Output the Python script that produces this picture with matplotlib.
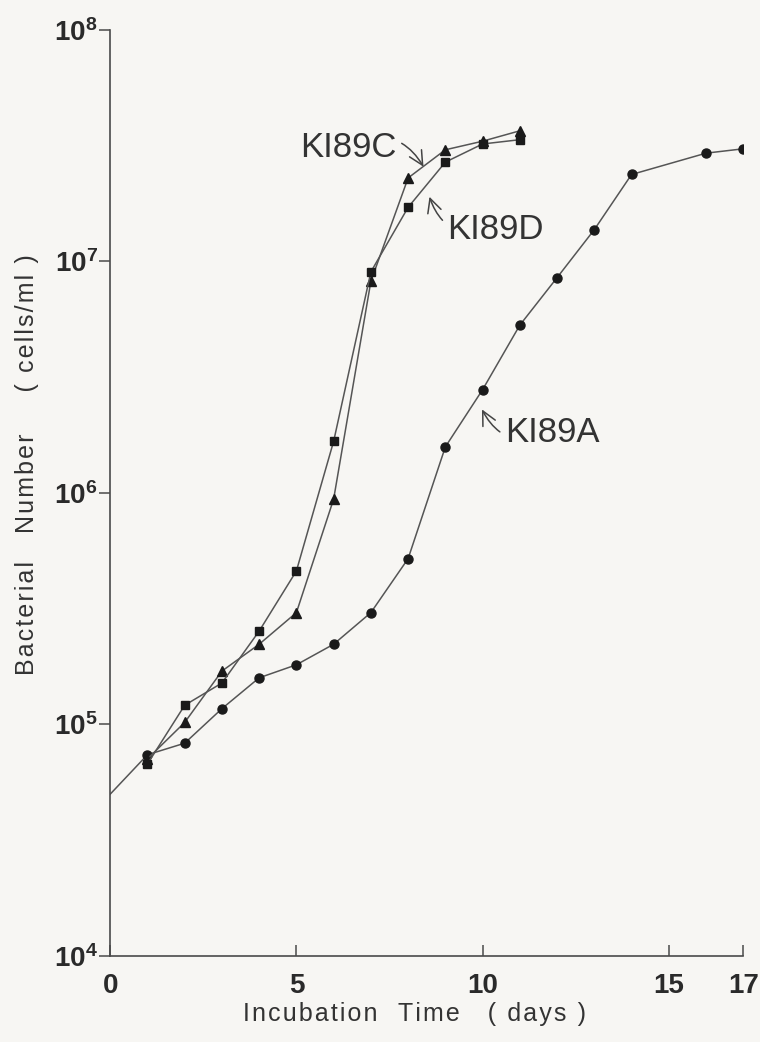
import numpy as np
import matplotlib.pyplot as plt

# Growth curves of three strains (log scale)
days_a = [0, 1, 2, 3, 4, 5, 6, 7, 8, 9, 10, 11, 12, 13, 14, 16, 17]
ki89a = [5.0e4, 7.4e4, 8.3e4, 1.17e5, 1.59e5, 1.81e5, 2.22e5, 3.04e5, 5.2e5,
         1.58e6, 2.79e6, 5.3e6, 8.5e6, 1.37e7, 2.37e7, 2.93e7, 3.06e7]

days_cd = [1, 2, 3, 4, 5, 6, 7, 8, 9, 10, 11]
ki89c = [7.1e4, 1.02e5, 1.70e5, 2.22e5, 3.04e5, 9.4e5, 8.2e6, 2.29e7, 3.03e7, 3.30e7, 3.66e7]
ki89d = [6.75e4, 1.21e5, 1.51e5, 2.53e5, 4.6e5, 1.67e6, 9.0e6, 1.71e7, 2.68e7, 3.21e7, 3.35e7]

xticks = [0, 5, 10, 15, 17]
yticks = [1e4, 1e5, 1e6, 1e7, 1e8]
ytick_labels = [r'$10^{4}$', r'$10^{5}$', r'$10^{6}$', r'$10^{7}$', r'$10^{8}$']

fam = ['Liberation Sans', 'DejaVu Sans']
plt.rcParams['font.family'] = fam
plt.rcParams['mathtext.fontset'] = 'custom'
plt.rcParams['mathtext.rm'] = 'Liberation Sans:bold'
plt.rcParams['mathtext.default'] = 'rm'


def spaced(s):
    # hair space between letters, imitates the wide tracking of the original
    return '\u200a'.join(s)


bg = '#f7f6f3'
ink = '#333333'
fig = plt.figure(figsize=(7.6, 10.42), dpi=100, facecolor=bg)
ax = fig.add_axes([0.145, 0.0825, 0.833, 0.889], facecolor=bg)

ax.plot(days_a, ki89a, color='#555555', lw=1.1, marker='o', ms=6.5,
        mfc='#1a1a1a', mec='#1a1a1a', markevery=list(range(1, len(days_a))))
ax.plot(days_cd, ki89c, color='#555555', lw=1.1, marker='^', ms=6.5,
        mfc='#1a1a1a', mec='#1a1a1a')
ax.plot(days_cd, ki89d, color='#555555', lw=1.1, marker='s', ms=6,
        mfc='#1a1a1a', mec='#1a1a1a')

ax.set_yscale('log')
ax.set_xlim(0, 17)
ax.set_ylim(1e4, 1e8)
ax.set_xticks(xticks)
ax.set_xticklabels([str(t) for t in xticks])
ax.set_yticks(yticks)
ax.set_yticklabels(ytick_labels)
ax.minorticks_off()

for s in ['top', 'right']:
    ax.spines[s].set_visible(False)
for s in ['left', 'bottom']:
    ax.spines[s].set_color('#4a4a4a')
    ax.spines[s].set_linewidth(1.2)

ax.tick_params(axis='x', direction='in', length=8, width=1.1, color='#4a4a4a', pad=12)
ax.tick_params(axis='y', direction='out', length=8, width=1.1, color='#4a4a4a', pad=1)
for lab in ax.get_xticklabels() + ax.get_yticklabels():
    lab.set_fontweight('bold')
    lab.set_fontsize(20)
    lab.set_color('#2a2a2a')

ax.set_xlabel(spaced('Incubation') + '   ' + spaced('Time') + '    ' + spaced('( days )'),
              fontsize=18, color=ink)
ax.xaxis.set_label_coords(0.48, -0.05)
ax.set_ylabel(spaced('Bacterial') + '    ' + spaced('Number') + '      ' + spaced('( cells/ml )'),
              fontsize=18, color=ink)
ax.yaxis.set_label_coords(-0.112, 0.53)

arrow = dict(arrowstyle='->', color='#444444', lw=1.1)
ax.annotate('KI89C', xy=(8.45, 2.5e7), xytext=(5.1, 3.1e7), fontsize=25,
            color=ink, va='center', ha='left',
            arrowprops=dict(arrow, connectionstyle='arc3,rad=-0.5', shrinkA=2, shrinkB=2))
ax.annotate('KI89D', xy=(8.55, 1.95e7), xytext=(9.05, 1.37e7), fontsize=25,
            color=ink, va='center', ha='left',
            arrowprops=dict(arrow, connectionstyle='arc3,rad=-0.5', shrinkA=2, shrinkB=2))
ax.annotate('KI89A', xy=(9.95, 2.35e6), xytext=(10.6, 1.83e6), fontsize=25,
            color=ink, va='center', ha='left',
            arrowprops=dict(arrow, connectionstyle='arc3,rad=-0.5', shrinkA=2, shrinkB=2))

fig.savefig('out.png', dpi=100, facecolor=bg)
